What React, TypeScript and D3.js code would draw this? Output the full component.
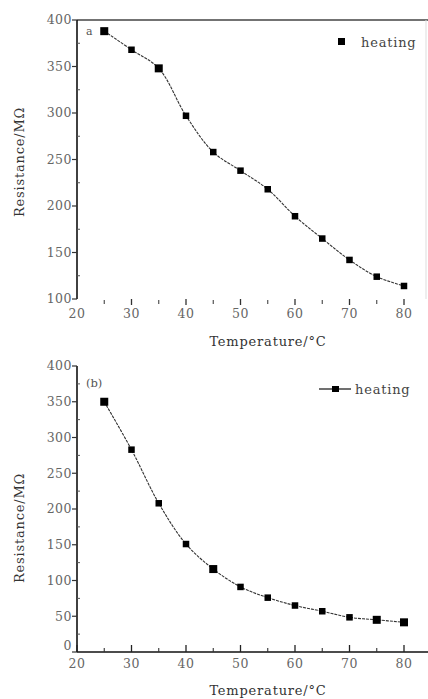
import React from "react";
import * as d3 from "d3";

const temps = [25, 30, 35, 40, 45, 50, 55, 60, 65, 70, 75, 80];
const resistanceA = [388, 368, 348, 297, 258, 238, 218, 189, 165, 142, 124, 114];
const resistanceB = [350, 283, 208, 151, 116, 91, 76, 65, 57, 48.5, 45, 41.5];
const xTicks = [20, 30, 40, 50, 60, 70, 80];
const xMinor = [25, 35, 45, 55, 65, 75];
const yTicksA = [100, 150, 200, 250, 300, 350, 400];
const yMinorA = [125, 175, 225, 275, 325, 375];
const yTicksB = [0, 50, 100, 150, 200, 250, 300, 350, 400];
const yMinorB = [25, 75, 125, 175, 225, 275, 325, 375];
const legendLabel = "heating";
const xTitle = "Temperature/°C";
const yTitle = "Resistance/MΩ";

const W = 428;
const H = 699;
const FONT = "'DejaVu Serif', 'Liberation Serif', serif";

const x = d3.scaleLinear().domain([20, 80]).range([77, 404]);
const yA = d3.scaleLinear().domain([100, 400]).range([299, 20]);
const yB = d3.scaleLinear().domain([0, 400]).range([652, 366]);

function Series({ vals, y, big }: { vals: number[]; y: d3.ScaleLinear<number, number>; big: number[] }) {
  const line = d3
    .line<number>()
    .x((_, i) => x(temps[i]))
    .y((v) => y(v))
    .curve(d3.curveCatmullRom.alpha(0.5));
  return (
    <g>
      <path d={line(vals) || ""} fill="none" stroke="#333" strokeWidth={1.1} strokeDasharray="3,1" />
      {vals.map((v, i) => {
        const s = big.includes(i) ? 8 : 6.5;
        return <rect key={i} x={x(temps[i]) - s / 2} y={y(v) - s / 2} width={s} height={s} fill="#000" />;
      })}
    </g>
  );
}

const tickStyle = { fontSize: 12.5, fill: "#666", letterSpacing: 0.5 } as const;
const titleStyle = { fontSize: 13, fill: "#333", letterSpacing: 0.8 } as const;

export default function App() {
  return (
    <svg width={W} height={H} style={{ position: "absolute", left: 0, top: 0, background: "#fff" }} fontFamily={FONT}>
      {/* Panel A */}
      <g>
        <line x1={77} x2={428} y1={20} y2={20} stroke="#444" strokeWidth={1.5} />
        <line x1={426} x2={426} y1={20} y2={299} stroke="#ddd" strokeWidth={1} />
        <line x1={77} x2={77} y1={20} y2={299} stroke="#111" strokeWidth={1.6} />
        {yTicksA.map((t) => (
          <g key={t}>
            <line x1={72} x2={77} y1={yA(t)} y2={yA(t)} stroke="#333" strokeWidth={1.2} />
            <text x={72} y={yA(t)} dy="0.35em" textAnchor="end" {...tickStyle}>{t}</text>
          </g>
        ))}
        {yMinorA.map((t) => (
          <line key={t} x1={77} x2={80} y1={yA(t)} y2={yA(t)} stroke="#555" strokeWidth={1} />
        ))}
        {xTicks.map((t) => (
          <g key={t}>
            {t !== 20 && <line x1={x(t)} x2={x(t)} y1={299} y2={305} stroke="#333" strokeWidth={1.3} />}
            <text x={x(t)} y={314} dy="0.35em" textAnchor="middle" {...tickStyle}>{t}</text>
          </g>
        ))}
        {xMinor.map((t) => (
          <line key={t} x1={x(t)} x2={x(t)} y1={300} y2={304} stroke="#444" strokeWidth={1.1} />
        ))}
        <Series vals={resistanceA} y={yA} big={[0, 2]} />
        <text x={86} y={31} dy="0.35em" fontSize={11} fill="#555">a</text>
        <rect x={338} y={38} width={7} height={7} fill="#000" />
        <text x={361} y={42} dy="0.35em" {...titleStyle} fill="#444">{legendLabel}</text>
        <text x={268} y={341} dy="0.35em" textAnchor="middle" {...titleStyle}>{xTitle}</text>
        <text transform="translate(19,162) rotate(-90)" textAnchor="middle" dy="0.35em" {...titleStyle}>{yTitle}</text>
      </g>

      {/* Panel B */}
      <g>
        <line x1={77} x2={428} y1={652} y2={652} stroke="#111" strokeWidth={1.6} />
        <line x1={77} x2={77} y1={366} y2={652} stroke="#111" strokeWidth={1.6} />
        {yTicksB.map((t) => (
          <g key={t}>
            <line x1={72} x2={77} y1={yB(t)} y2={yB(t)} stroke="#333" strokeWidth={1.2} />
            <text x={72} y={t === 0 ? yB(t) - 6 : yB(t)} dy="0.35em" textAnchor="end" {...tickStyle}>{t}</text>
          </g>
        ))}
        {yMinorB.map((t) => (
          <line key={t} x1={77} x2={80} y1={yB(t)} y2={yB(t)} stroke="#555" strokeWidth={1} />
        ))}
        {xTicks.map((t) => (
          <g key={t}>
            <line x1={x(t)} x2={x(t)} y1={652} y2={645} stroke="#222" strokeWidth={1.3} />
            <text x={x(t)} y={664} dy="0.35em" textAnchor="middle" {...tickStyle}>{t}</text>
          </g>
        ))}
        {xMinor.map((t) => (
          <line key={t} x1={x(t)} x2={x(t)} y1={652} y2={648} stroke="#333" strokeWidth={1.1} />
        ))}
        <Series vals={resistanceB} y={yB} big={[0, 4, 10, 11]} />
        <text x={86} y={383} dy="0.35em" fontSize={11.5} fill="#555">(b)</text>
        <line x1={319} x2={351} y1={389} y2={389} stroke="#222" strokeWidth={1.3} />
        <rect x={332} y={386} width={7} height={6} fill="#000" />
        <text x={355} y={389} dy="0.35em" {...titleStyle} fill="#444">{legendLabel}</text>
        <text x={268} y={690} dy="0.35em" textAnchor="middle" {...titleStyle}>{xTitle}</text>
        <text transform="translate(19,528) rotate(-90)" textAnchor="middle" dy="0.35em" {...titleStyle}>{yTitle}</text>
      </g>
    </svg>
  );
}
